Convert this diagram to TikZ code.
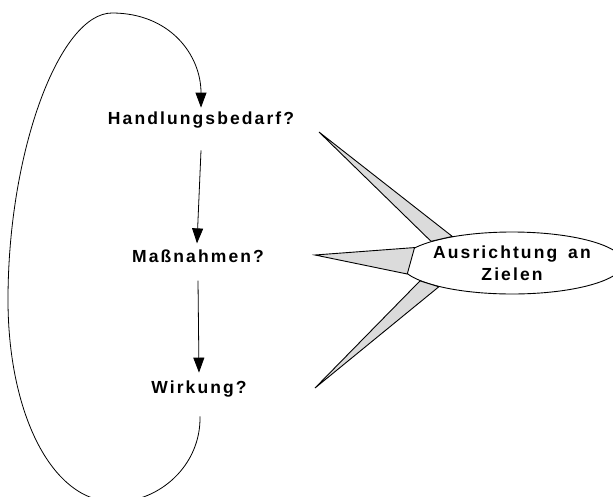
\documentclass[tikz,border=0pt]{standalone}
\usepackage{fontspec}
\setmainfont{Liberation Sans}
\newfontfamily\labfont[LetterSpace=12]{Liberation Sans}
\usetikzlibrary{arrows.meta,shapes.geometric}
\tikzset{
  lab/.style={font=\labfont\bfseries\fontsize{17.5}{22}\selectfont, inner sep=2pt},
  arr/.style={draw, line width=0.8pt, -{Triangle[length=15pt,width=11pt]}},
  spike/.style={draw, line width=0.9pt, fill=gray!28, line join=miter},
}
\begin{document}
\begin{tikzpicture}[x=1pt,y=-1pt]
\useasboundingbox (0,0) rectangle (613,496);
\node[lab] (hb) at (201,120) {Handlungsbedarf?};
\node[lab] (mn) at (198,256) {Maßnahmen?};
\node[lab] (wk) at (199,389) {Wirkung?};
\node[lab, draw, line width=0.9pt, fill=white, ellipse, minimum width=200pt, minimum height=62pt, inner sep=0pt, align=center] (goal) at (512,263) {Ausrichtung\hspace{4pt} an\\Zielen};
\coordinate (t1) at (319,132);
\coordinate (t2) at (315,255);
\coordinate (t3) at (315,388);
\draw[spike] (t1) -- (goal.156) -- (goal.165) -- cycle;
\draw[spike] (t2) -- (goal.171) -- (goal.186) -- cycle;
\draw[spike] (t3) -- (goal.191) -- (goal.198) -- cycle;
\draw[arr] ([yshift=-20pt]hb.south) -- ([xshift=-1pt,yshift=4pt]mn.north);
\draw[arr] ([yshift=-16pt]mn.south) -- ([yshift=6pt]wk.north);
\draw[arr] ([xshift=1pt,yshift=-17pt]wk.south) .. controls (201,465) and (160,502) .. (115,502)
  .. controls (50,502) and (8,410) .. (8,300)
  .. controls (8,150) and (60,13) .. (112,13)
  .. controls (170,13) and (201,55) .. ([yshift=2pt]hb.north);
\end{tikzpicture}
\end{document}
